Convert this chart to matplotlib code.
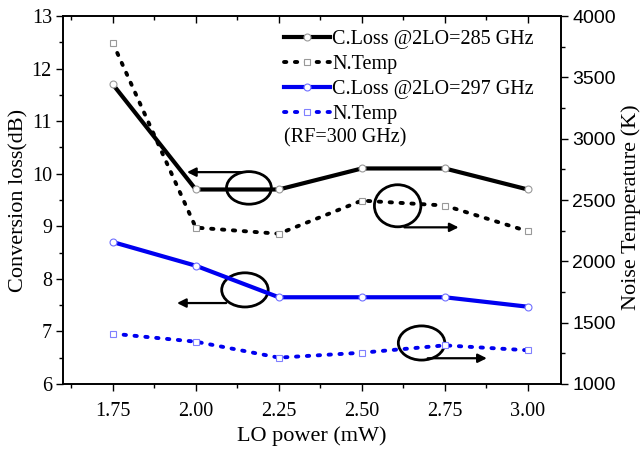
import matplotlib
matplotlib.use("Agg")
import matplotlib.pyplot as plt
from matplotlib.patches import Ellipse
from matplotlib.ticker import MultipleLocator

# LO power sweep
lo_power = [1.75, 2.00, 2.25, 2.50, 2.75, 3.00]

# conversion loss (dB), left axis
closs_285 = [11.7, 9.7, 9.7, 10.1, 10.1, 9.7]
closs_297 = [8.7, 8.25, 7.65, 7.65, 7.65, 7.47]

# noise temperature (K), right axis
ntemp_285 = [3780, 2275, 2225, 2495, 2455, 2245]
ntemp_297 = [1410, 1345, 1215, 1255, 1315, 1275]

serif = "Liberation Serif"
sans = "Liberation Sans"
plt.rcParams['font.family'] = serif
plt.rcParams['mathtext.fontset'] = 'stix'

fig = plt.figure(figsize=(6.44, 4.49), dpi=100)
ax1 = fig.add_axes([63/644, 1 - 384/449, (561-63)/644, (384-16)/449])
ax2 = ax1.twinx()

dots = (0, (0.6, 2.2))
circ = dict(marker='o', markersize=5, markerfacecolor='white', markeredgewidth=0.8)
sq = dict(marker='s', markersize=5, markerfacecolor='white', markeredgewidth=0.8)

l1, = ax1.plot(lo_power, closs_285, color='black', lw=3, markeredgecolor='#999999', **circ)
l3, = ax1.plot(lo_power, closs_297, color='#0000f0', lw=3, markeredgecolor='#7070ff', **circ)
l2, = ax2.plot(lo_power, ntemp_285, color='black', lw=2.8, linestyle=dots,
               dash_capstyle='round', markeredgecolor='#999999', **sq)
l4, = ax2.plot(lo_power, ntemp_297, color='#0000f0', lw=2.8, linestyle=dots,
               dash_capstyle='round', markeredgecolor='#8080ff', **sq)

ax1.set_xlim(1.6, 3.1)
ax1.set_ylim(6, 13)
ax2.set_ylim(1000, 4000)

ax1.set_xticks(lo_power)
ax1.set_xticklabels([f"{v:.2f}" for v in lo_power])
ax1.xaxis.set_minor_locator(MultipleLocator(0.125))
ax1.yaxis.set_major_locator(MultipleLocator(1))
ax1.yaxis.set_minor_locator(MultipleLocator(0.5))
ax2.yaxis.set_major_locator(MultipleLocator(500))
ax2.yaxis.set_minor_locator(MultipleLocator(250))

ax1.tick_params(axis='x', which='both', direction='out', top=True, labelsize=14.5, pad=8)
ax1.tick_params(axis='y', which='both', direction='out', labelsize=14.5, pad=3)
ax1.tick_params(which='major', length=5, width=1)
ax1.tick_params(which='minor', length=3, width=1)
ax2.tick_params(axis='y', which='major', direction='out', length=5, width=1, labelsize=14, pad=3)
ax2.tick_params(axis='y', which='minor', direction='out', length=3, width=1)
for lab in ax2.get_yticklabels():
    lab.set_fontfamily(sans)
for ax in (ax1, ax2):
    for sp in ax.spines.values():
        sp.set_linewidth(1.2)

# top ticks point inward
for t in ax1.xaxis.get_major_ticks() + ax1.xaxis.get_minor_ticks():
    t.tick2line.set_marker(3)

ax1.set_xlabel("LO power (mW)", fontsize=16, labelpad=4)
ax1.set_ylabel("Conversion loss(dB)", fontsize=16, labelpad=2)
ax2.set_ylabel("Noise Temperature (K)", fontsize=16)
ax2.yaxis.set_label_coords(1.121, 0.48)

leg = ax1.legend([l1, l2, l3, l4],
                 ["C.Loss @2LO=285 GHz", "N.Temp", "C.Loss @2LO=297 GHz", "N.Temp"],
                 loc='upper left', bbox_to_anchor=(284/644, 1 - 30/449),
                 bbox_transform=fig.transFigure, frameon=False, fontsize=14.5,
                 numpoints=1, handlelength=2.3, handletextpad=0.1,
                 labelspacing=0.29, borderpad=0, borderaxespad=0)
fig.text(284/644, 1 - 138/449, "(RF=300 GHz)", fontsize=14.5, va='center')

# ellipses and arrows pointing to the axis each pair belongs to
ell_kw = dict(fill=False, edgecolor='black', lw=2)
arr_kw = dict(arrowstyle='-|>', lw=1.6, color='black', mutation_scale=13)
ax1.add_patch(Ellipse((2.16, 9.73), 0.135, 0.62, **ell_kw))
ax1.annotate("", xy=(1.965, 10.03), xytext=(2.15, 10.03), arrowprops=arr_kw)
ax1.add_patch(Ellipse((2.608, 9.39), 0.14, 0.8, **ell_kw))
ax1.annotate("", xy=(2.80, 8.98), xytext=(2.62, 8.98), arrowprops=arr_kw)
ax1.add_patch(Ellipse((2.148, 7.79), 0.14, 0.65, **ell_kw))
ax1.annotate("", xy=(1.935, 7.54), xytext=(2.10, 7.54), arrowprops=arr_kw)
ax1.add_patch(Ellipse((2.68, 6.78), 0.14, 0.65, **ell_kw))
ax1.annotate("", xy=(2.885, 6.49), xytext=(2.69, 6.49), arrowprops=arr_kw)

fig.savefig("out.png", dpi=100)
